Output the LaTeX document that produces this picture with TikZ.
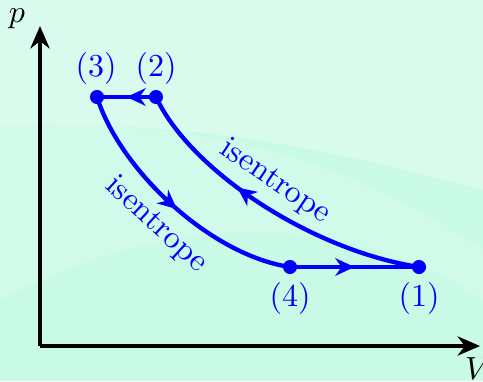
\documentclass[tikz,border=0pt]{standalone}
\usetikzlibrary{arrows.meta,decorations.markings}
\definecolor{bgmint}{RGB}{200,250,230}
\definecolor{bglight}{RGB}{222,252,240}
\tikzset{
  axis/.style={black, line width=1.3pt, -{Stealth[length=7pt,width=6pt]}},
  cyc/.style={blue, line width=1.35pt},
  midarrow/.style={postaction={decorate}, decoration={markings, mark=at position #1 with {\arrow{Stealth[length=6pt,width=5.5pt]}}}},
  dot/.style={circle, fill=blue, inner sep=0pt, minimum size=4.4pt},
  lbl/.style={text=blue, inner sep=0pt},
}
\begin{document}
\begin{tikzpicture}[x=0.3125pt, y=-0.3125pt]
\useasboundingbox (0,0) rectangle (483,381);
% background
\fill[bgmint] (0,0) rectangle (483,381);
\fill[bglight, opacity=0.8] (0,0) -- (483,0) -- (483,190) .. controls (330,150) and (200,120) .. (0,125) -- cycle;
\fill[white, opacity=0.18] (0,125) .. controls (200,120) and (330,150) .. (483,250) -- (483,300) .. controls (330,200) and (150,220) .. (0,300) -- cycle;
% axes
\coordinate (O) at (40,346);
\coordinate (Ytop) at (40,26);
\coordinate (Xend) at (480,346);
\draw[axis] (O) -- (Ytop);
\draw[axis] (O) -- (Xend);
\node[inner sep=0pt] (plab) at (17,19) {$p$};
\node[inner sep=0pt] (vlab) at (478,369) {$V$};
% state points
\coordinate (P1) at (419,267);
\coordinate (P2) at (156,97);
\coordinate (P3) at (97,97);
\coordinate (P4) at (290,267);
% cycle
\draw[cyc, midarrow=0.5] (P2) -- (P3);
\draw[cyc, midarrow=0.5] (P4) -- (P1);
\draw[cyc, midarrow=0.62] (P1) .. controls (310,250) and (190,170) .. (P2);
\draw[cyc, midarrow=0.52] (P3) .. controls (120,170) and (210,255) .. (P4);
% dots
\foreach \p in {P1,P2,P3,P4} \node[dot] at (\p) {};
% labels
\node[lbl] (l1) at (419,298) {(1)};
\node[lbl] (l2) at (156,68) {(2)};
\node[lbl] (l3) at (96,68) {(3)};
\node[lbl] (l4) at (290,298) {(4)};
\node[lbl, rotate=-34] (is1) at (275,182) {isentrope};
\node[lbl, rotate=-42.5] (is2) at (156,225) {isentrope};
\end{tikzpicture}
\end{document}
